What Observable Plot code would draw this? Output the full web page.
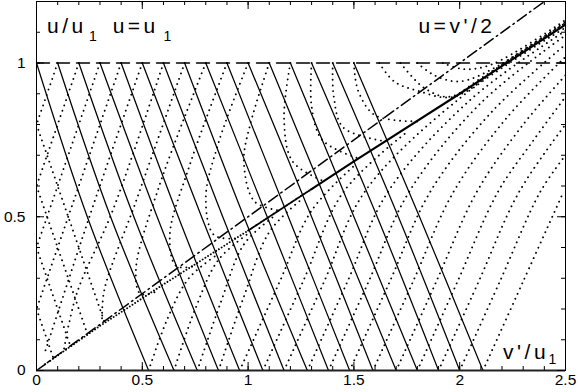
<!DOCTYPE html>
<html><head><meta charset="utf-8">
<script src="https://cdn.jsdelivr.net/npm/d3@7"></script>
<script src="https://cdn.jsdelivr.net/npm/@observablehq/plot@0.6"></script>
<style>body{margin:0;background:#fff}</style>
</head><body><div id="chart"></div>
<script>
// ---- tick values and labels ----
const xTicks = [0, 0.5, 1, 1.5, 2, 2.5];
const xTickLabels = ["0", "0.5", "1", "1.5", "2", "2.5"];
const yTicks = [0, 0.5, 1];
const yTickLabels = ["0", "0.5", "1"];
const xMinor = [0,0.1,0.2,0.3,0.4,0.5,0.6,0.7,0.8,0.9,1,1.1,1.2,1.3,1.4,1.5,1.6,1.7,1.8,1.9,2,2.1,2.2,2.3,2.4,2.5];
const yMinor = [0,0.1,0.2,0.3,0.4,0.5,0.6,0.7,0.8,0.9,1,1.1,1.2];

// ---- reference lines ----
const levelU1 = [[0, 1], [2.5, 1]];            // u = u1
const halfLine = [[0, 0], [2.4, 1.2]];         // u = v'/2

// ---- solid characteristics (from u = u1 down to u = 0) ----
const solidTopX    = [0,0.1,0.2,0.3,0.4,0.5,0.6,0.7,0.8,0.9,1.0,1.1,1.2,1.3,1.4,1.5];
const solidMidX    = [0.24,0.35,0.46,0.57,0.67,0.78,0.88,0.98,1.09,1.19,1.30,1.40,1.50,1.61,1.71,1.81];
const solidBottomX = [0.53,0.65,0.76,0.86,0.96,1.07,1.17,1.28,1.38,1.48,1.59,1.70,1.80,1.90,2.00,2.11];

// ---- dotted curves rising from u = 0 ----
const upFromBottom = [
 [[0.53,0],[0.62,0.17],[0.72,0.30],[0.85,0.375]],
 [[0.65,0],[0.75,0.20],[0.86,0.36],[1.00,0.445]],
 [[0.76,0],[0.87,0.22],[0.98,0.41],[1.12,0.50]],
 [[0.86,0],[0.98,0.24],[1.10,0.45],[1.25,0.555]],
 [[0.96,0],[1.15,0.29],[1.30,0.52],[1.50,0.665]],
 [[1.07,0],[1.26,0.29],[1.45,0.58],[1.75,0.775]],
 [[1.17,0],[1.36,0.29],[1.55,0.58],[2.00,0.885],[2.50,1.115]],
 [[1.28,0],[1.47,0.29],[1.66,0.58],[2.05,0.88],[2.50,1.105]],
 [[1.38,0],[1.57,0.29],[1.76,0.58],[2.10,0.87],[2.50,1.09]],
 [[1.48,0],[1.67,0.29],[1.86,0.58],[2.15,0.84],[2.50,1.06]],
 [[1.59,0],[1.78,0.29],[1.97,0.58],[2.22,0.82],[2.50,1.02]],
 [[1.70,0],[1.89,0.29],[2.08,0.58],[2.30,0.80],[2.50,0.96]],
 [[1.80,0],[1.99,0.29],[2.18,0.58],[2.35,0.75],[2.50,0.89]],
 [[1.90,0],[2.09,0.29],[2.28,0.58],[2.50,0.80]],
 [[2.00,0],[2.19,0.29],[2.38,0.58],[2.50,0.70]],
 [[2.11,0],[2.30,0.29],[2.49,0.58]]
];

// ---- dotted curves descending from u = u1 ----
const downFromTop = [
 [[0.1,1],[0,0.8]],
 [[0.2,1],[0,0.6]],
 [[0.3,1],[0,0.4]],
 [[0.4,1],[0,0.2]],
 [[0.5,1],[0.25,0.5],[0.04,0.06]],
 [[0.6,1],[0.36,0.52],[0.19,0.25],[0.13,0.07]],
 [[0.7,1],[0.47,0.55],[0.32,0.26],[0.31,0.16]],
 [[0.8,1],[0.58,0.6],[0.47,0.33],[0.49,0.25],[0.56,0.255]],
 [[0.9,1],[0.72,0.66],[0.63,0.44],[0.66,0.34],[0.75,0.34]],
 [[1.0,1],[0.86,0.74],[0.80,0.56],[0.84,0.44],[0.95,0.43]],
 [[1.1,1],[1.01,0.80],[0.98,0.68],[1.03,0.55],[1.15,0.52]],
 [[1.2,1],[1.17,0.82],[1.21,0.68],[1.36,0.615]],
 [[1.3,1],[1.30,0.86],[1.35,0.75],[1.52,0.69]],
 [[1.4,1],[1.405,0.89],[1.45,0.79],[1.65,0.745]],
 [[1.5,1],[1.52,0.91],[1.60,0.83],[1.80,0.81]],
 [[1.62,1],[1.69,0.94],[1.80,0.91],[1.97,0.89],[2.25,1.02],[2.5,1.13]],
 [[1.72,1],[1.83,0.92],[1.95,0.89],[2.10,0.95],[2.5,1.13]],
 [[1.80,1],[1.88,0.96],[2.00,0.94],[2.18,0.99],[2.5,1.135]],
 [[1.92,1],[2.02,0.98],[2.15,0.995],[2.5,1.14]]
];

// ---- dotted curves leaving v' = 0 ----
const fromLeftEdge = [
 [[0,0.8],[0.32,0.16]],
 [[0,0.6],[0.24,0.12]],
 [[0,0.4],[0.16,0.08]],
 [[0,0.2],[0.08,0.04]]
];

// ---- envelope (dense band) ----
const envelope = [[0.04,0.02],[0.3,0.145],[0.6,0.28],[1.0,0.455],[1.3,0.59],[1.5,0.68],[2.0,0.9],[2.5,1.125]];

// ---- annotations ----
const labelTexts = ["u/u", "u=u", "u=v'/2", "v'/u"];
const subTexts = ["1", "1", "1"];

// ---------------------------------------------------------
const W = 578, H = 392;
const mL = 36, mR = 13, mT = 1, mB = 22;
const innerW = W - mL - mR, innerH = H - mT - mB;

const dotted = {stroke: "black", strokeWidth: 1.9, strokeDasharray: "0.01,5.6", strokeLinecap: "round", curve: "catmull-rom"};
const toRows = (curves) => curves.flatMap((c, i) => c.map(([x, y]) => ({x, y, id: i})));

const solidRows = solidTopX.flatMap((x0, i) => [
  {x: x0, y: 1, id: i},
  {x: solidMidX[i], y: 0.5, id: i},
  {x: solidBottomX[i], y: 0, id: i}
]);

const labelPos = [
  {t: labelTexts[0], x: 0.05, y: 1.096},
  {t: labelTexts[1], x: 0.36, y: 1.096},
  {t: labelTexts[2], x: 1.805, y: 1.096},
  {t: labelTexts[3], x: 2.205, y: 0.039}
];
const subPos = [
  {t: subTexts[0], x: 0.248, y: 1.07},
  {t: subTexts[1], x: 0.6, y: 1.07},
  {t: subTexts[2], x: 2.42, y: 0.022}
];

const font = "'Liberation Sans', Arial, Helvetica, sans-serif";

const chart = Plot.plot({
  width: W, height: H,
  marginLeft: mL, marginRight: mR, marginTop: mT, marginBottom: mB,
  x: {domain: [0, 2.5], axis: null},
  y: {domain: [0, 1.2], axis: null},
  style: {fontFamily: font, background: "white"},
  marks: [
    // dotted families
    Plot.line(toRows(upFromBottom), {x: "x", y: "y", z: "id", ...dotted, clip: true}),
    Plot.line(toRows(downFromTop), {x: "x", y: "y", z: "id", ...dotted, clip: true}),
    Plot.line(toRows(fromLeftEdge), {x: "x", y: "y", z: "id", ...dotted, clip: true}),
    // envelope band
    Plot.line(envelope.filter(d => d[0] <= 1.0), {x: d => d[0], y: d => d[1], stroke: "black", strokeWidth: 1.9, strokeDasharray: "0.01,3.2", strokeLinecap: "round", clip: true}),
    Plot.line(envelope.filter(d => d[0] >= 1.0 && d[0] <= 1.3), {x: d => d[0], y: d => d[1], stroke: "black", strokeWidth: 1.9, strokeDasharray: "1.5,1.5", clip: true}),
    Plot.line(envelope.filter(d => d[0] >= 1.3), {x: d => d[0], y: d => d[1], stroke: "black", strokeWidth: 2.1, clip: true}),
    // solid characteristics
    Plot.line(solidRows, {x: "x", y: "y", z: "id", stroke: "black", strokeWidth: 1.25, curve: "catmull-rom", clip: true}),
    // reference lines
    Plot.line(levelU1, {x: d => d[0], y: d => d[1], stroke: "black", strokeWidth: 1.4, strokeDasharray: "13,7"}),
    Plot.line(halfLine, {x: d => d[0], y: d => d[1], stroke: "black", strokeWidth: 1.5, strokeDasharray: "11,4,1.5,4", clip: true}),
    // frame & ticks
    Plot.frame({stroke: "black", strokeWidth: 1}),
    Plot.ruleY([0], {stroke: "#222", strokeWidth: 2}),
    Plot.tickX(xMinor, {x: d => d, insetTop: innerH - 4, stroke: "black"}),
    Plot.tickX(xMinor, {x: d => d, insetBottom: innerH - 4, stroke: "black"}),
    Plot.tickX(xTicks, {x: d => d, insetTop: innerH - 8, stroke: "black"}),
    Plot.tickX(xTicks, {x: d => d, insetBottom: innerH - 8, stroke: "black"}),
    Plot.tickY(yMinor, {y: d => d, insetRight: innerW - 4, stroke: "black"}),
    Plot.tickY(yMinor, {y: d => d, insetLeft: innerW - 4, stroke: "black"}),
    Plot.tickY(yTicks, {y: d => d, insetRight: innerW - 8, stroke: "black"}),
    Plot.tickY(yTicks, {y: d => d, insetLeft: innerW - 8, stroke: "black"}),
    // tick labels
    Plot.text(xTicks, {x: d => d, frameAnchor: "bottom", dy: 14.5, text: (d, i) => xTickLabels[i], fontSize: 15.5, fill: "black"}),
    Plot.text(yTicks, {y: d => d, frameAnchor: "left", dx: -11, textAnchor: "end", text: (d, i) => yTickLabels[i], fontSize: 15.5, fill: "black"}),
    // annotations
    Plot.text(labelPos, {x: "x", y: "y", text: "t", textAnchor: "start", lineAnchor: "bottom", fontSize: 21, fill: "black"}),
    Plot.text(subPos, {x: "x", y: "y", text: "t", textAnchor: "start", lineAnchor: "bottom", fontSize: 14, fill: "black"})
  ]
});
d3.select(chart).selectAll('g[font-size="21"]').attr("letter-spacing", "3.5");
document.getElementById("chart").appendChild(chart);
</script>
</body></html>
